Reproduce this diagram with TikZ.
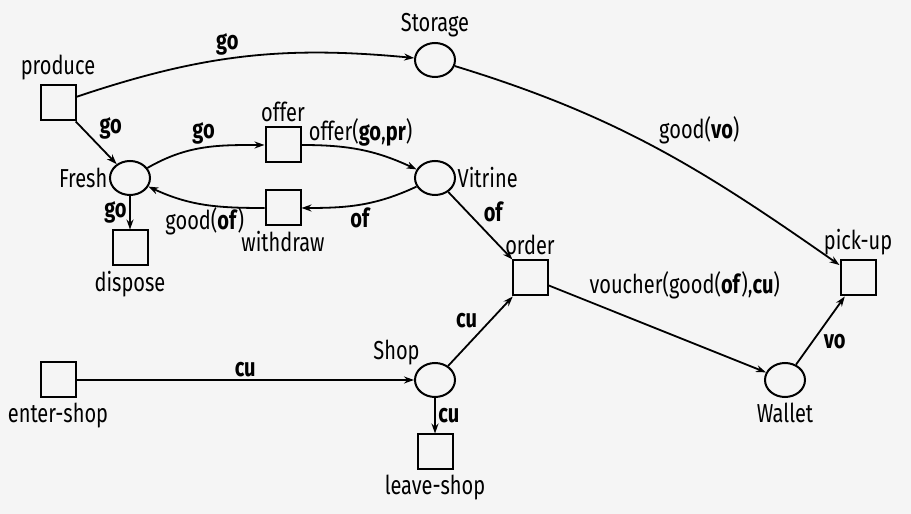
\documentclass[tikz,border=0pt]{standalone}
\usepackage{fontspec}
\setmainfont[FakeStretch=0.77]{Fira Sans}
\usepackage{tikz}
\usetikzlibrary{arrows.meta,positioning,shapes.geometric}
\definecolor{canvas}{HTML}{F5F5F5}
\tikzset{
  place/.style={draw, ellipse, line width=2pt, minimum width=40pt, minimum height=34pt, inner sep=0pt},
  trans/.style={draw, rectangle, line width=2pt, minimum size=35pt, inner sep=0pt},
  arc/.style={-{Stealth[length=10pt,width=7pt]}, line width=1.8pt},
  every label/.style={inner sep=1.5pt}
}

\begin{document}
\begin{tikzpicture}[x=1pt, y=1pt, on grid, inner sep=2.5pt, label distance=3pt, font=\fontsize{26}{30}\selectfont]
  \fill[canvas] (0,0) rectangle (911,514);
  \useasboundingbox (0,0) rectangle (911,514);
  % places and transitions
  \node[place, label={[label distance=0pt]left:Fresh}] (fresh) at (130,336) {};
  \node[trans, label=above:produce, above left=75pt and 72pt of fresh] (produce) {};
  \node[trans, label=above:offer, above right=33pt and 153pt of fresh] (offer) {};
  \node[trans, label=below:withdraw, below right=30pt and 153pt of fresh] (withdraw) {};
  \node[trans, label=below:dispose, below=70pt of fresh] (dispose) {};
  \node[place, label={[label distance=0pt]right:Vitrine}, right=305pt of fresh] (vitrine) {};
  \node[place, label=above:Storage, above=118pt of vitrine] (storage) {};
  \node[trans, label=above:order, below right=100pt and 95pt of vitrine] (order) {};
  \node[trans, label=above:pick-up, right=328pt of order] (pickup) {};
  \node[place, label={[label distance=0pt]above left:Shop}, below=202pt of vitrine] (shop) {};
  \node[trans, label=below:leave-shop, below=72pt of shop] (leave) {};
  \node[trans, label=below:enter-shop, left=377pt of shop] (enter) {};
  \node[place, label=below:Wallet, right=350pt of shop] (wallet) {};
  % arcs
  \draw[arc] (produce) to[bend left=12] node[above, pos=0.45] {\textbf{go}} (storage);
  \draw[arc] (produce) -- node[above right] {\textbf{go}} (fresh);
  \draw[arc] (fresh) to[out=30, in=180] node[above] {\textbf{go}} (offer);
  \draw[arc] (offer) to[out=0, in=155] node[above] {offer(\textbf{go},\textbf{pr})} (vitrine);
  \draw[arc] (vitrine) to[out=205, in=0] node[below] {\textbf{of}} (withdraw);
  \draw[arc] (withdraw) to[out=180, in=-25] node[below] {good(\textbf{of})} (fresh);
  \draw[arc] (fresh) -- node[left] {\textbf{go}} (dispose);
  \draw[arc] (vitrine) -- node[above right] {\textbf{of}} (order);
  \draw[arc] (storage) to[out=-17, in=145] node[above right] {good(\textbf{vo})} (pickup);
  \draw[arc] (enter) -- node[above] {\textbf{cu}} (shop);
  \draw[arc] (shop) -- node[right] {\textbf{cu}} (leave);
  \draw[arc] (shop) -- node[above left] {\textbf{cu}} (order);
  \draw[arc] (order) -- node[pos=0.18, anchor=south west, inner sep=1pt] {voucher(good(\textbf{of}),\textbf{cu})} (wallet);
  \draw[arc] (wallet) -- node[below right] {\textbf{vo}} (pickup);
\end{tikzpicture}
\end{document}
